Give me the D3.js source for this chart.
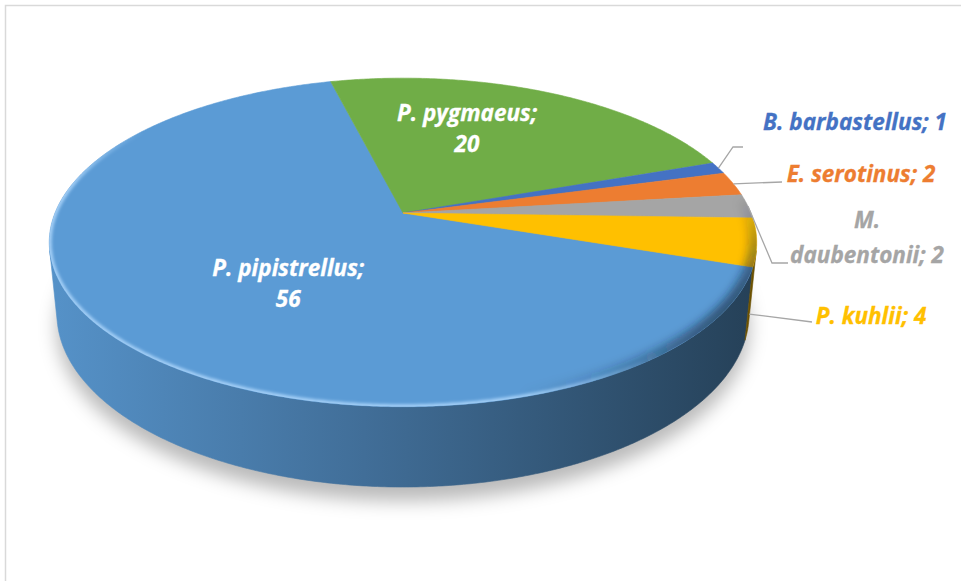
<!DOCTYPE html>
<html>
<head>
<meta charset="utf-8">
<script src="https://cdn.jsdelivr.net/npm/d3@7"></script>
<style>
  html, body { margin: 0; padding: 0; background: #fff; }
  svg { display: block; }
  text { font-family: "Open Sans", Lato, sans-serif; font-weight: bold; font-style: italic; }
</style>
</head>
<body>
<svg id="chart" width="961" height="581"></svg>
<script>
// Bat species recorded and their counts
const species = ["P. pipistrellus", "P. pygmaeus", "B. barbastellus", "E. serotinus", "M. daubentonii", "P. kuhlii"];
const counts = [56, 20, 1, 2, 2, 4];
const sliceColors = ["#5B9BD5", "#70AD47", "#4472C4", "#ED7D31", "#A5A5A5", "#FFC000"];

const W = 961, H = 581;
const deg = Math.PI / 180;
const svg = d3.select("#chart");
const defs = svg.append("defs");

// ---- 3D perspective projection of a flat cylinder (units: camera distance = 1) ----
const cx = 403, cy = 213;          // screen position of the pie centre
const R = 0.2015;                  // radius
const depthH = 0.0467;             // thickness of the pie
const focal = 1727;                // focal length in pixels
const sinT = 0.457, cosT = Math.sqrt(1 - sinT * sinT); // camera elevation

// theta: clockwise from the far side (same convention as d3.pie); y: 0 = top face, -depthH = bottom
function proj(theta, y, k = 1) {
  const u = k * Math.sin(theta), v = -k * Math.cos(theta);
  const xc = R * u;
  const yc = y * cosT - R * v * sinT;
  const dist = 1 - (y * sinT + R * v * cosT);
  return [cx + focal * xc / dist, cy - focal * yc / dist];
}
function rim(a0, a1, y) {
  const n = Math.max(2, Math.ceil(Math.abs(a1 - a0) / (0.5 * deg)));
  return d3.range(n + 1).map(i => proj(a0 + (a1 - a0) * i / n, y));
}
const line = d3.line();

// ---- pie layout ----
const firstSliceAngle = 108.7 * deg;
const data = species.map((name, i) => ({ name, count: counts[i], color: sliceColors[i] }));
const arcs = d3.pie()
  .sort(null)
  .value(d => d.count)
  .startAngle(firstSliceAngle)
  .endAngle(firstSliceAngle + 2 * Math.PI)(data);

// ---- chart frame ----
svg.append("rect")
  .attr("x", 5.5).attr("y", 5.5)
  .attr("width", W + 20).attr("height", H + 20)
  .attr("fill", "#fff")
  .attr("stroke", "#D9D9D9").attr("stroke-width", 1.5);

// ---- soft shadow under the pie ----
const shadowBlur = defs.append("filter").attr("id", "shadowBlur")
  .attr("x", "-20%").attr("y", "-30%").attr("width", "140%").attr("height", "160%");
shadowBlur.append("feGaussianBlur").attr("stdDeviation", 9);
svg.append("path")
  .attr("d", line(rim(0, 2 * Math.PI, -depthH)) + "Z")
  .attr("transform", "translate(0,14)")
  .attr("fill", "rgba(0,0,0,0.27)")
  .attr("filter", "url(#shadowBlur)");

// ---- side walls (only the part facing the camera) ----
const vis0 = Math.acos(-R / cosT), vis1 = 2 * Math.PI - vis0;
arcs.forEach((a, i) => {
  const base = d3.color(a.data.color);
  const g = defs.append("linearGradient").attr("id", "side" + i)
    .attr("gradientUnits", "userSpaceOnUse")
    .attr("x1", 40).attr("x2", 760).attr("y1", 0).attr("y2", 0);
  g.append("stop").attr("offset", 0).attr("stop-color", base.darker(0.15));
  g.append("stop").attr("offset", 0.45).attr("stop-color", base.darker(0.95));
  g.append("stop").attr("offset", 1).attr("stop-color", base.darker(2.5));
  [0, 1].forEach(k => {
    const lo = Math.max(a.startAngle, vis0 + 2 * Math.PI * k);
    const hi = Math.min(a.endAngle, vis1 + 2 * Math.PI * k);
    if (hi > lo) {
      const pts = rim(lo, hi, 0).concat(rim(hi, lo, -depthH));
      svg.append("path")
        .attr("d", line(pts) + "Z")
        .attr("fill", `url(#side${i})`)
        .attr("stroke", `url(#side${i})`).attr("stroke-width", 0.6);
    }
  });
});

// ---- top faces ----
const topFaces = svg.append("g");
arcs.forEach(a => {
  const pts = [[cx, cy]].concat(rim(a.startAngle, a.endAngle, 0));
  topFaces.append("path")
    .attr("d", line(pts) + "Z")
    .attr("fill", a.data.color)
    .attr("stroke", a.data.color).attr("stroke-width", 0.6);
});

// ---- bevel along the top rim: light on the front-left, shaded on the right ----
defs.append("clipPath").attr("id", "topClip")
  .append("path").attr("d", line(rim(0, 2 * Math.PI, 0)) + "Z");
[["lightBlur", 1.6], ["shadeBlur", 4.5]].forEach(([id, s]) => {
  defs.append("filter").attr("id", id)
    .attr("x", "-10%").attr("y", "-10%").attr("width", "120%").attr("height", "120%")
    .append("feGaussianBlur").attr("stdDeviation", s);
});
const bevel = svg.append("g").attr("clip-path", "url(#topClip)");
function rimBand(a0, a1, weight, color, width, blurId) {
  const g = bevel.append("g").attr("filter", `url(#${blurId})`);
  const step = 2 * deg;
  for (let t = a0; t < a1; t += step) {
    const o = weight(t + step / 2);
    if (o <= 0.01) continue;
    g.append("path")
      .attr("d", line(rim(t, t + step, 0)))
      .attr("fill", "none")
      .attr("stroke", color).attr("stroke-opacity", o)
      .attr("stroke-width", width);
  }
}
const bump = (centre, half, peak) => t => {
  const d = Math.abs(t / deg - centre) / half;
  return d >= 1 ? 0 : peak * 0.5 * (1 + Math.cos(Math.PI * d));
};
rimBand(85 * deg, 175 * deg, bump(122, 45, 0.6), "#10243A", 16, "shadeBlur");
rimBand(140 * deg, 305 * deg, t => {
  const a = t / deg;
  if (a < 165) return 0.8 * (a - 140) / 25;
  if (a > 280) return 0.8 * (305 - a) / 25;
  return 0.8;
}, "#B5DCFF", 5, "lightBlur");

// ---- labels ----
const fontSize = 22.5;
const lineGap = 31;
// labels drawn inside their slice: angle shift from the slice middle and radial fraction
const insideLabels = {
  "P. pipistrellus": { shift: -11.4 * deg, k: 0.52 },
  "P. pygmaeus": { shift: -8.8 * deg, k: 0.61 }
};
// labels set beside the pie with a leader line: text centre, first baseline, leader bends
const outsideLabels = {
  "B. barbastellus": { x: 855, y: 130, breakAfter: 0, bends: [[733, 147], [743, 147]] },
  "E. serotinus":    { x: 861, y: 182, breakAfter: 0, bends: [[782, 182]] },
  "M. daubentonii":  { x: 867, y: 228, breakAfter: 1, bends: [[772, 263], [788, 263]] },
  "P. kuhlii":       { x: 871, y: 324, breakAfter: 0, bends: [[812, 322]] }
};

const labels = svg.append("g")
  .attr("font-size", fontSize);
arcs.forEach(a => {
  const mid = (a.startAngle + a.endAngle) / 2;
  const name = a.data.name, value = a.data.count;
  if (insideLabels[name]) {
    const p = insideLabels[name];
    const [x, y] = proj(mid + p.shift, 0, p.k);
    const t = labels.append("text")
      .attr("text-anchor", "middle")
      .attr("fill", "#FFFFFF")
      .attr("stroke", "#FFFFFF").attr("stroke-width", 0.3);
    [name + ";", String(value)].forEach((s, j) => {
      t.append("tspan").attr("x", x).attr("y", y - lineGap / 2 + 6 + j * lineGap).text(s);
    });
  } else if (outsideLabels[name]) {
    const p = outsideLabels[name];
    // leader starts on the top rim, or on the bottom rim when the slice faces the viewer
    const facing = -Math.cos(mid) > 0;
    const start = proj(mid, facing ? -depthH : 0);
    labels.append("path")
      .attr("d", line([start].concat(p.bends)))
      .attr("fill", "none")
      .attr("stroke", "#A6A6A6").attr("stroke-width", 1.3);
    const words = (name + "; " + value).split(" ");
    const lines = p.breakAfter
      ? [words.slice(0, p.breakAfter).join(" "), words.slice(p.breakAfter).join(" ")]
      : [words.join(" ")];
    const t = labels.append("text")
      .attr("text-anchor", "middle")
      .attr("fill", a.data.color)
      .attr("stroke", a.data.color).attr("stroke-width", 0.3);
    lines.forEach((s, j) => {
      t.append("tspan").attr("x", p.x).attr("y", p.y + j * 35).text(s);
    });
  }
});
</script>
</body>
</html>
